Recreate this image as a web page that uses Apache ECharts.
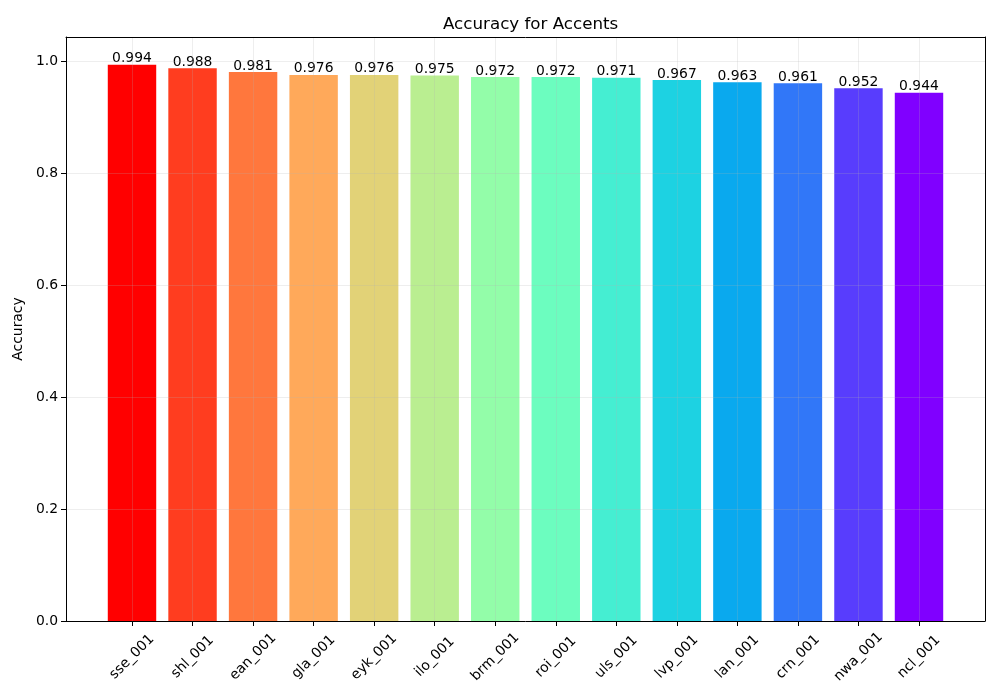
<!DOCTYPE html>
<html><head><meta charset="utf-8">
<script src="https://cdn.jsdelivr.net/npm/echarts@6/dist/echarts.min.js"></script>
<style>html,body{margin:0;padding:0;background:#fff}#c{width:1000px;height:700px}</style>
</head><body><div id="c"></div>
<script>
const categories = ['sse_001','shl_001','ean_001','gla_001','eyk_001','ilo_001','brm_001','roi_001','uls_001','lvp_001','lan_001','crn_001','nwa_001','ncl_001'];
const accuracy = [0.994,0.988,0.981,0.976,0.976,0.975,0.972,0.972,0.971,0.967,0.963,0.961,0.952,0.944];
const yTicks = [0, 0.2, 0.4, 0.6, 0.8, 1.0];

function rainbow(x){
  const c = v => Math.round(Math.max(0, Math.min(1, v)) * 255);
  const r = c(Math.abs(2*x - 0.5)), g = c(Math.sin(Math.PI*x)), b = c(Math.cos(Math.PI*x/2));
  return 'rgb(' + r + ',' + g + ',' + b + ')';
}
const n = categories.length;
const colors = categories.map((_, i) => rainbow(1 - i/(n-1)));
const yMax = Math.max(...accuracy) * 1.05;
const FONT = 'DejaVu Sans';
const gridColor = 'rgba(176,176,176,0.22)';

const chart = echarts.init(document.getElementById('c'), null, {renderer: 'canvas'});
chart.setOption({
  animation: false,
  textStyle: {fontFamily: FONT},
  title: {text: 'Accuracy for Accents', left: 438, top: 11,
    textStyle: {fontFamily: FONT, fontSize: 16.7, fontWeight: 'normal', color: '#000'}},
  grid: [
    {left: 66, top: 37, width: 919, height: 584},
    {left: 132, top: 37, width: 787, height: 584}
  ],
  xAxis: [
    {gridIndex: 0, type: 'value', min: 0, max: 1, position: 'bottom', z: 6,
      axisLine: {show: true, onZero: false, lineStyle: {color: '#000', width: 1}}, axisTick: {show: false},
      axisLabel: {show: false}, splitLine: {show: false}},
    {gridIndex: 0, type: 'value', min: 0, max: 1, position: 'top', z: 6,
      axisLine: {show: true, onZero: false, lineStyle: {color: '#000', width: 1}}, axisTick: {show: false},
      axisLabel: {show: false}, splitLine: {show: false}},
    {gridIndex: 1, type: 'category', data: categories, boundaryGap: false, position: 'bottom', z: 5,
      axisLine: {show: false},
      axisTick: {show: true, length: 5, lineStyle: {color: '#000', width: 1}},
      splitLine: {show: true, lineStyle: {color: gridColor, width: 1}},
      axisLabel: {interval: 0, rotate: 45, align: 'center', verticalAlign: 'middle', margin: 36,
        fontFamily: FONT, fontSize: 13.9, color: '#000'}}
  ],
  yAxis: [
    {gridIndex: 0, type: 'value', min: 0, max: yMax, interval: 0.2, position: 'left', z: 5,
      name: 'Accuracy', nameLocation: 'middle', nameGap: 40, nameRotate: 90,
      nameTextStyle: {fontFamily: FONT, fontSize: 13.9, color: '#000'},
      axisLine: {show: true, onZero: false, lineStyle: {color: '#000', width: 1}},
      axisTick: {show: true, length: 5, lineStyle: {color: '#000', width: 1},
        customValues: yTicks},
      splitLine: {show: true, lineStyle: {color: gridColor, width: 1}},
      axisLabel: {margin: 8, fontFamily: FONT, fontSize: 13.9, color: '#000',
        customValues: yTicks,
        formatter: v => (Math.abs(v/0.2 - Math.round(v/0.2)) < 1e-6 && v <= 1.0001) ? v.toFixed(1) : ''}},
    {gridIndex: 0, type: 'value', min: 0, max: yMax, position: 'right', z: 6,
      axisLine: {show: true, onZero: false, lineStyle: {color: '#000', width: 1}}, axisTick: {show: false},
      axisLabel: {show: false}, splitLine: {show: false}},
    {gridIndex: 1, type: 'value', min: 0, max: yMax, show: false, splitLine: {show: false}}
  ],
  series: [{
    type: 'bar', xAxisIndex: 2, yAxisIndex: 2, clip: false, z: 2,
    barWidth: '80%',
    data: accuracy.map((v, i) => ({value: v, itemStyle: {color: colors[i]}})),
    label: {show: true, position: 'top', distance: -1, fontFamily: FONT, fontSize: 13.9, color: '#000',
      formatter: p => p.value.toFixed(3)}
  }]
});
</script></body></html>
